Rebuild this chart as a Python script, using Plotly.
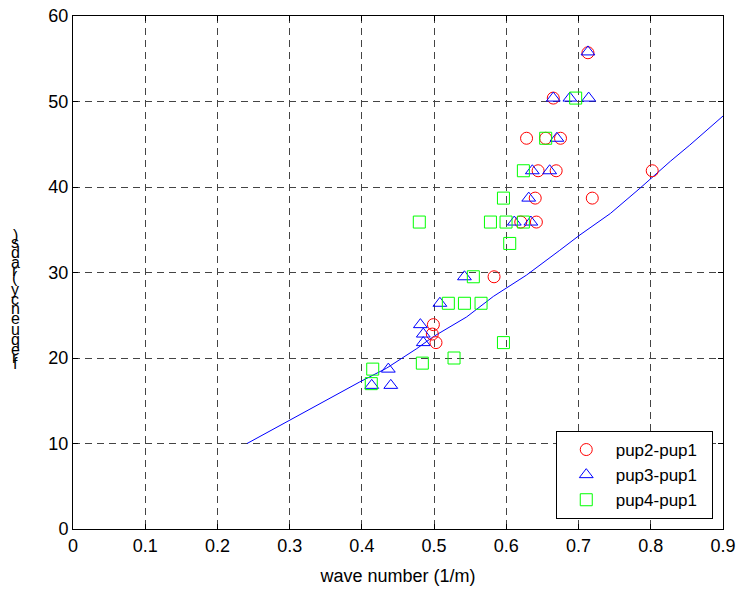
import plotly.graph_objects as go

# ---- data ----
pup2_x = [0.713, 0.665, 0.628, 0.6545, 0.675, 0.644, 0.669, 0.802, 0.640, 0.719, 0.620, 0.6416, 0.583, 0.499, 0.4975, 0.5026]
pup2_y = [55.7, 50.4, 45.7, 45.7, 45.7, 41.9, 41.9, 41.9, 38.7, 38.7, 35.9, 35.9, 29.5, 23.9, 22.8, 21.8]

pup3_x = [0.713, 0.665, 0.688, 0.714, 0.670, 0.636, 0.660, 0.631, 0.611, 0.634, 0.542, 0.508, 0.481, 0.485, 0.485, 0.4366, 0.4136, 0.440]
pup3_y = [55.8, 50.4, 50.4, 50.4, 45.7, 41.9, 41.9, 38.7, 35.9, 35.9, 29.5, 26.4, 23.9, 22.8, 21.8, 18.7, 16.8, 16.8]

pup4_x = [0.696, 0.6545, 0.6236, 0.596, 0.4795, 0.578, 0.5996, 0.6236, 0.6047, 0.5543, 0.5197, 0.542, 0.565, 0.596, 0.5276, 0.4837, 0.415, 0.413]
pup4_y = [50.4, 45.7, 41.9, 38.7, 35.9, 35.9, 35.9, 35.9, 33.4, 29.5, 26.4, 26.4, 26.4, 21.8, 20.0, 19.4, 18.7, 17.0]

curve_x = [0.241, 0.299, 0.351, 0.397, 0.434, 0.476, 0.499, 0.545, 0.582, 0.628, 0.674, 0.702, 0.744, 0.785, 0.827, 0.854, 0.900]
curve_y = [10.0, 12.7, 15.1, 17.2, 18.8, 21.1, 22.5, 24.8, 27.2, 29.7, 32.6, 34.4, 36.9, 39.85, 43.0, 44.9, 48.3]

x_ticks = [0, 0.1, 0.2, 0.3, 0.4, 0.5, 0.6, 0.7, 0.8, 0.9]
x_tick_labels = ["0", "0.1", "0.2", "0.3", "0.4", "0.5", "0.6", "0.7", "0.8", "0.9"]
y_ticks = [0, 10, 20, 30, 40, 50, 60]
y_tick_labels = ["0", "10", "20", "30", "40", "50", "60"]

x_title = "wave number (1/m)"
y_title = "frequency (rads)"
names = ["pup2-pup1", "pup3-pup1", "pup4-pup1"]

FONT = "Liberation Sans, Arial, sans-serif"
PAD = "\u00a0"

fig = go.Figure()
fig.add_trace(go.Scatter(x=curve_x, y=curve_y, mode="lines",
                         line=dict(color="#0000FF", width=1), showlegend=False, hoverinfo="skip"))
fig.add_trace(go.Scatter(x=pup2_x, y=pup2_y, mode="markers", name=PAD * 2 + names[0] + PAD * 2,
                         marker=dict(symbol="circle-open", size=12, color="#FF0000", line=dict(width=1, color="#FF0000"))))
fig.add_trace(go.Scatter(x=pup3_x, y=pup3_y, mode="markers", name=PAD * 2 + names[1] + PAD * 2,
                         marker=dict(symbol="triangle-up-open", size=12, color="#0000FF", line=dict(width=1, color="#0000FF"))))
fig.add_trace(go.Scatter(x=pup4_x, y=pup4_y, mode="markers", name=PAD * 2 + names[2] + PAD * 2,
                         marker=dict(symbol="square-open", size=12, color="#00FF00", line=dict(width=1, color="#00FF00"))))

axis_common = dict(showline=True, linecolor="black", linewidth=1, mirror="ticks",
                   ticks="inside", ticklen=5, tickcolor="black",
                   showgrid=True, gridcolor="#444444", gridwidth=1, griddash="7px,5px",
                   zeroline=False, automargin=False,
                   tickfont=dict(family=FONT, size=18, color="black"))

fig.update_xaxes(range=[0, 0.9], tickvals=x_ticks, ticktext=x_tick_labels,
                 title=dict(text=x_title, font=dict(family=FONT, size=18, color="black"), standoff=14),
                 **axis_common)
fig.update_yaxes(range=[0, 60], tickvals=y_ticks, ticktext=y_tick_labels, **axis_common)

# y-axis title drawn as a vertical stack of upright glyphs (as in the reference)
adv = {"f": .278, "r": .333, "e": .556, "q": .556, "u": .556, "n": .556, "c": .5, "y": .5,
       " ": .278, "(": .333, "a": .556, "d": .556, "s": .5, ")": .333}
fs = 18.4
plot_top, plot_bottom, plot_left, plot_w = 16, 529, 73, 650
plot_h = plot_bottom - plot_top
cum = 366.0
annotations = []
for ch in y_title:
    a = adv.get(ch, .5) * fs
    cy = cum - a / 2
    cum -= a
    if ch != " ":
        annotations.append(dict(text=ch, xref="paper", yref="paper",
                                x=(15 - plot_left) / plot_w, y=(plot_bottom - cy) / plot_h,
                                xanchor="center", yanchor="middle", showarrow=False,
                                font=dict(family=FONT, size=16, color="black")))

fig.update_layout(
    width=740, height=590,
    margin=dict(l=73, r=17, t=16, b=61, autoexpand=False),
    paper_bgcolor="white", plot_bgcolor="white",
    font=dict(family=FONT, size=18, color="black"),
    annotations=annotations,
    legend=dict(x=0.985, y=0.0195, xanchor="right", yanchor="bottom",
                bgcolor="white", bordercolor="black", borderwidth=1,
                font=dict(family=FONT, size=17, color="black"),
                indentation=9, tracegroupgap=0, itemwidth=30),
    showlegend=True,
)

fig.write_html("out.html")
